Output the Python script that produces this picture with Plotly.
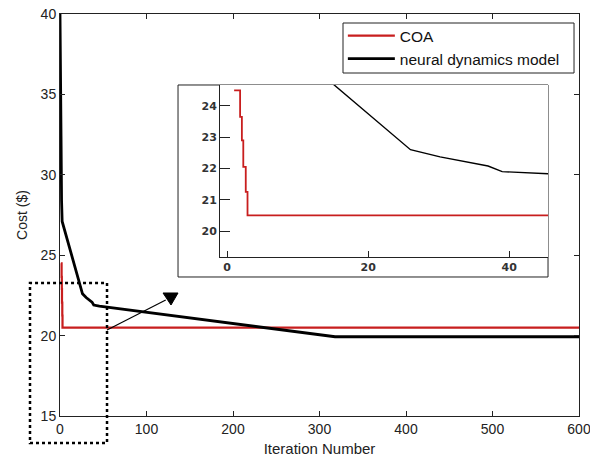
import plotly.graph_objects as go

# Cost per iteration for the two methods
coa_iter = [1, 1.85, 2.1, 2.3, 2.65, 2.9, 600]
coa_cost = [24.5, 23.65, 22.9, 22.05, 21.25, 20.5, 20.5]

neural_iter = [0, 0.6, 1.2, 1.8, 2.5, 26, 30.2, 37, 39, 45.5, 318, 600]
neural_cost = [40, 37.5, 32.4, 28.4, 27.1, 22.6, 22.37, 22.08, 21.9, 21.83, 19.93, 19.93]

main_xticks = [0, 100, 200, 300, 400, 500, 600]
main_yticks = [15, 20, 25, 30, 35, 40]
inset_xticks = [0, 20, 40]
inset_yticks = [20, 21, 22, 23, 24]

RED = "#c81e1e"
BLACK = "#000000"
FONT = "Liberation Sans"

fig = go.Figure()

# main axes
fig.add_trace(go.Scatter(x=coa_iter, y=coa_cost, mode="lines", name="COA",
                         line=dict(color=RED, width=2.2, shape="hv")))
fig.add_trace(go.Scatter(x=neural_iter, y=neural_cost, mode="lines",
                         name="neural dynamics model",
                         line=dict(color=BLACK, width=2.8)))

# zoomed inset
fig.add_trace(go.Scatter(x=coa_iter, y=coa_cost, mode="lines", showlegend=False,
                         line=dict(color=RED, width=1.8, shape="hv"),
                         xaxis="x2", yaxis="y2"))
fig.add_trace(go.Scatter(x=neural_iter, y=neural_cost, mode="lines", showlegend=False,
                         line=dict(color=BLACK, width=1.4),
                         xaxis="x2", yaxis="y2"))

axis_common = dict(showgrid=False, zeroline=False, showline=True, linecolor="#222",
                   linewidth=1, ticks="inside", tickcolor="#222", automargin=False,
                   ticklabeloverflow="allow")
inset_font = dict(size=11, color="#333", family="DejaVu Sans", weight="bold")

fig.update_layout(
    width=590, height=464,
    margin=dict(l=60, r=11, t=14, b=48),
    paper_bgcolor="white", plot_bgcolor="white",
    font=dict(family=FONT, size=14, color="#222"),
    xaxis=dict(range=[0, 600], tickvals=main_xticks, mirror="ticks", ticklen=5,
               title=dict(text="Iteration Number", font=dict(size=15), standoff=7),
               **axis_common),
    yaxis=dict(range=[15, 40], tickvals=main_yticks, mirror="ticks", ticklen=5,
               title=dict(text="Cost ($)", font=dict(size=14), standoff=9),
               **axis_common),
    xaxis2=dict(domain=[0.3083, 0.9403], anchor="y2", range=[-1, 45.5],
                tickvals=inset_xticks, ticklen=6, tickfont=inset_font,
                **axis_common),
    yaxis2=dict(domain=[0.3955, 0.8234], anchor="x2", range=[19.17, 24.67],
                tickvals=inset_yticks, ticklen=10, tickfont=inset_font,
                **axis_common),
    legend=dict(x=0.545, y=0.9876, xanchor="left", yanchor="top",
                borderwidth=0, bgcolor="rgba(0,0,0,0)",
                font=dict(size=15.5, color="#111"), tracegroupgap=0,
                itemwidth=47),
    shapes=[
        # legend frame
        dict(type="rect", xref="paper", yref="paper", x0=0.5453, x1=0.9904,
             y0=0.8532, y1=0.9776, line=dict(color="#222", width=1),
             fillcolor="white", layer="above"),
        # inset frame
        dict(type="rect", xref="paper", yref="paper", x0=0.2274, x1=0.9403,
             y0=0.3458, y1=0.8234, line=dict(color="#222", width=1), layer="below"),
        # dotted region around the zoomed part
        dict(type="rect", xref="paper", yref="paper", x0=-0.0578, x1=0.0906,
             y0=-0.0672, y1=0.3308, line=dict(color="black", width=2.5, dash="dot")),
        # pointer line
        dict(type="line", xref="paper", yref="paper", x0=0.0906, y0=0.2139,
             x1=0.2037, y1=0.2886, line=dict(color="black", width=1.2)),
        # pointer head
        dict(type="path", xref="paper", yref="paper",
             path="M 0.1985 0.3060 L 0.2274 0.3060 L 0.2139 0.2761 Z",
             fillcolor="black", line=dict(color="black", width=1)),
    ],
)

fig.write_html("out.html")
